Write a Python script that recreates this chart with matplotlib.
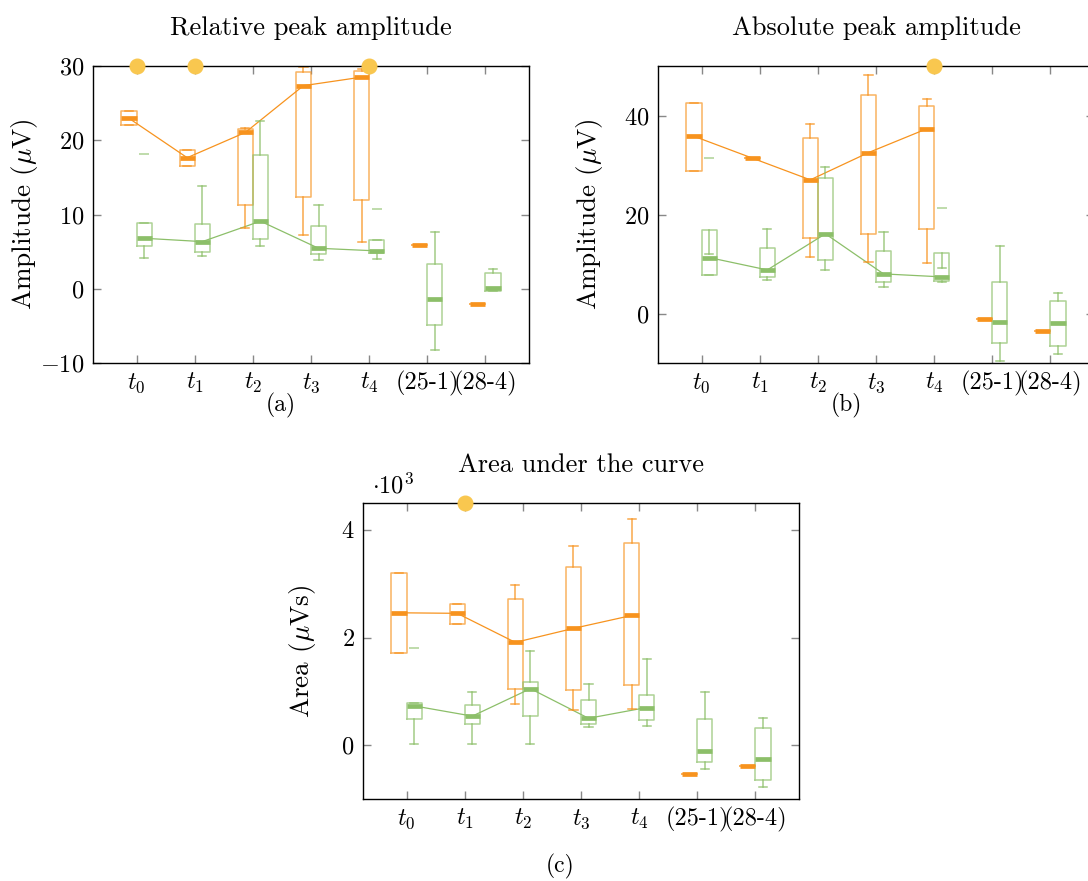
import matplotlib
matplotlib.use("Agg")
import matplotlib.pyplot as plt

plt.rcParams['font.family'] = 'serif'
plt.rcParams['font.serif'] = ['cmr10']
plt.rcParams['mathtext.fontset'] = 'cm'
plt.rcParams['axes.formatter.use_mathtext'] = True
plt.rcParams['axes.unicode_minus'] = True

ORANGE = '#f7931e'
GREEN = '#8cbf69'
YELLOW = '#f9c74f'

labels = ['$t_0$', '$t_1$', '$t_2$', '$t_3$', '$t_4$', '(25-1)', '(28-4)']

# each box: (whislo, q1, med, q3, whishi)

# relative peak amplitude (uV)
rel_orange = [(22.0, 22.0, 22.95, 23.9, 23.9), (16.5, 16.5, 17.65, 18.7, 18.7),
              (8.2, 11.3, 21.05, 21.5, 21.7), (7.2, 12.3, 27.35, 29.25, 29.9),
              (6.3, 11.9, 28.5, 29.3, 29.6), (5.95, 5.95, 5.95, 5.95, 5.95),
              (-2.0, -2.0, -2.0, -2.0, -2.0)]
rel_green = [(4.1, 5.8, 6.8, 8.9, 8.9), (4.4, 4.9, 6.35, 8.7, 13.85),
             (5.7, 6.7, 9.1, 18.05, 22.6), (3.85, 4.65, 5.45, 8.4, 11.3),
             (4.05, 4.8, 5.1, 6.6, 6.6), (-8.2, -4.9, -1.4, 3.3, 7.7),
             (-0.25, -0.25, 0.1, 2.1, 2.65)]
rel_green_out = [18.2, None, None, None, 10.8, None, None]
rel_sig = [0, 1, 4]

# absolute peak amplitude (uV)
abs_orange = [(28.8, 28.8, 35.8, 42.6, 42.6), (31.4, 31.4, 31.4, 31.4, 31.4),
              (11.4, 15.3, 27.0, 35.4, 38.2), (10.5, 16.1, 32.5, 44.2, 48.1),
              (10.3, 17.0, 37.3, 41.9, 43.4), (-1.1, -1.1, -1.1, -1.1, -1.1),
              (-3.5, -3.5, -3.5, -3.5, -3.5)]
abs_green = [(7.7, 7.8, 11.3, 16.9, 12.1), (6.7, 7.3, 8.8, 13.3, 17.1),
             (8.8, 10.9, 16.1, 27.3, 29.6), (5.4, 6.3, 8.0, 12.7, 16.5),
             (6.4, 6.5, 7.4, 12.2, 9.2), (-9.5, -6.0, -1.7, 6.4, 13.6),
             (-8.2, -6.6, -2.0, 2.6, 4.2)]
abs_green_out = [31.5, None, None, None, 21.4, None, None]
abs_sig = [4]

# area under the curve (10^3 uVs)
auc_orange = [(1.71, 1.71, 2.46, 3.2, 3.2), (2.26, 2.26, 2.45, 2.63, 2.63),
              (0.77, 1.05, 1.91, 2.71, 2.98), (0.66, 1.03, 2.17, 3.32, 3.7),
              (0.67, 1.11, 2.41, 3.75, 4.2), (-0.54, -0.54, -0.54, -0.54, -0.54),
              (-0.38, -0.38, -0.38, -0.38, -0.38)]
auc_green = [(0.02, 0.48, 0.73, 0.79, 0.79), (0.02, 0.39, 0.54, 0.74, 0.99),
             (0.02, 0.55, 1.05, 1.18, 1.75), (0.34, 0.39, 0.5, 0.84, 1.13),
             (0.36, 0.46, 0.7, 0.94, 1.61), (-0.45, -0.32, -0.1, 0.48, 0.98),
             (-0.78, -0.65, -0.26, 0.32, 0.5)]
auc_green_out = [1.8, None, None, None, None, None, None]
auc_sig = [1]


def stats(boxes, outliers):
    out = []
    for i, b in enumerate(boxes):
        lo, q1, med, q3, hi = b
        fl = [outliers[i]] if outliers[i] is not None else []
        out.append(dict(whislo=lo, q1=q1, med=med, q3=q3, whishi=hi, fliers=fl))
    return out


def draw_boxes(ax, boxes, outliers, color, offset):
    pos = [i + offset for i in range(len(boxes))]
    ax.bxp(stats(boxes, outliers), positions=pos, widths=0.26, capwidths=0.14,
           manage_ticks=False,
           boxprops=dict(color=color, alpha=0.7, lw=1.1),
           whiskerprops=dict(color=color, alpha=0.8, lw=1.1),
           capprops=dict(color=color, alpha=0.8, lw=1.1),
           medianprops=dict(color=color, lw=3.4, solid_capstyle='butt'),
           flierprops=dict(marker='_', markeredgecolor=color, alpha=0.7,
                           markersize=7, markeredgewidth=1.1))
    meds = [b[2] for b in boxes[:5]]
    ax.plot(pos[:5], meds, color=color, lw=0.9, zorder=1)


def panel(rect, title, ylabel, orange, green, gout, sig, ylim, yticks, labx):
    ax = fig.add_axes(rect)
    draw_boxes(ax, orange, [None] * 7, ORANGE, -0.13)
    draw_boxes(ax, green, gout, GREEN, 0.13)
    ax.set_xlim(-0.75, 6.75)
    ax.set_ylim(*ylim)
    ax.set_yticks(yticks)
    ax.set_xticks(range(7))
    ax.set_xticklabels(labels)
    for lab in ax.get_xticklabels()[5:]:
        lab.set_fontsize(14.5)
    for lab in ax.get_xticklabels()[:5]:
        lab.set_fontsize(19)
    ax.tick_params(direction='in', length=6, width=1, color='#888888',
                   top=True, right=True, labelsize=17.5, pad=6)
    for s in ax.spines.values():
        s.set_linewidth(1.0)
    ax.set_title(title, fontsize=19, pad=22)
    ax.set_ylabel(ylabel, fontsize=19.5)
    ax.yaxis.set_label_coords(labx, 0.5)
    ax.plot(sig, [ylim[1]] * len(sig), 'o', color=YELLOW, ms=10.5,
            clip_on=False, zorder=10)
    return ax


fig = plt.figure(figsize=(10.88, 8.81), dpi=100)

w = 436 / 1088
h = 297 / 881
ax_a = panel([93 / 1088, 1 - 363 / 881, w, h], 'Relative peak amplitude',
             r'Amplitude ($\mu$V)', rel_orange, rel_green, rel_green_out,
             rel_sig, (-10, 30), [-10, 0, 10, 20, 30], -0.122)
ax_b = panel([658 / 1088, 1 - 363 / 881, w, h], 'Absolute peak amplitude',
             r'Amplitude ($\mu$V)', abs_orange, abs_green, abs_green_out,
             abs_sig, (-10, 50), [0, 20, 40], -0.122)
ax_c = panel([363 / 1088, 1 - 799 / 881, w, 296 / 881], 'Area under the curve',
             r'Area ($\mu$Vs)', auc_orange, auc_green, auc_green_out,
             auc_sig, (-1, 4.5), [0, 2, 4], -0.103)
ax_c.text(0.02, 1.015, r'$\cdot 10^3$', transform=ax_c.transAxes,
          fontsize=17.5, ha='left', va='bottom')

fig.text(281 / 1088, 1 - 405 / 881, '(a)', fontsize=17, ha='center', va='center')
fig.text(846 / 1088, 1 - 405 / 881, '(b)', fontsize=17, ha='center', va='center')
fig.text(560 / 1088, 1 - 866 / 881, '(c)', fontsize=17, ha='center', va='center')

fig.savefig('out.png', dpi=100)
